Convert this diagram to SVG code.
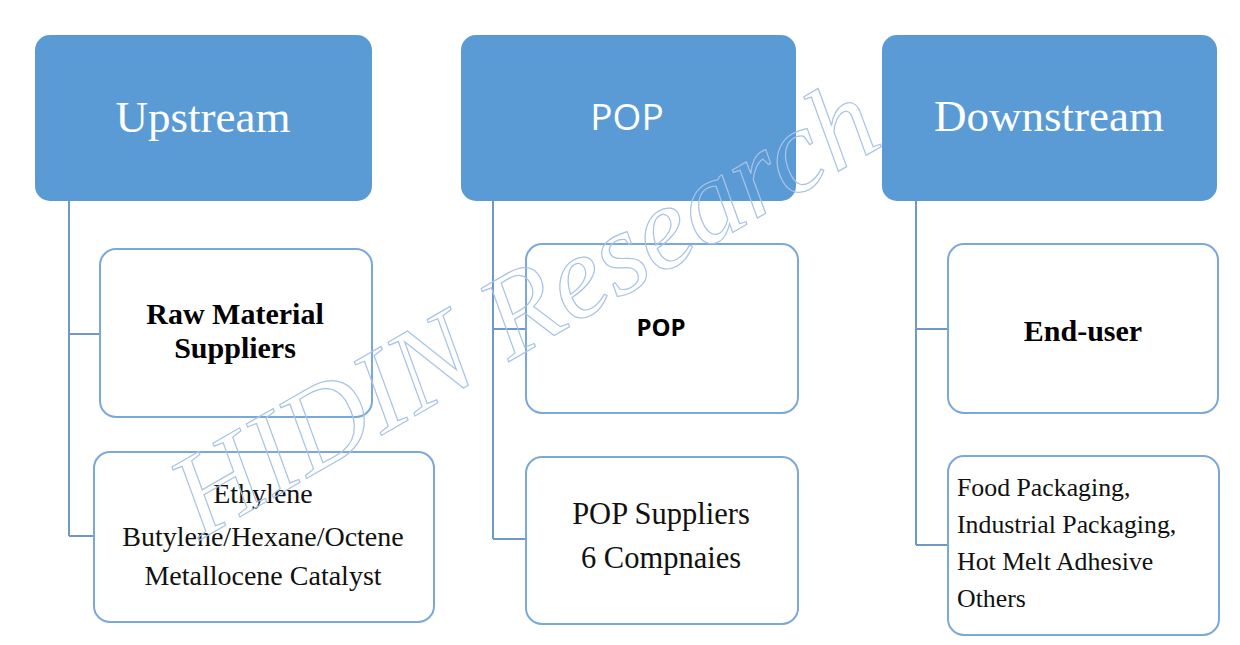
<svg xmlns="http://www.w3.org/2000/svg" width="1240" height="645" viewBox="0 0 1240 645">
<style>
.hdr{fill:#5B9BD5;}
.box{fill:#FFFFFF;stroke:#7AA8DA;stroke-width:2;}
.con{fill:none;stroke:#6D98C8;stroke-width:2;}
.ht{font-family:"Liberation Serif",serif;font-size:45px;fill:#FFFFFF;text-anchor:middle;}
.hs{font-family:"Open Sans","Liberation Sans",sans-serif;font-size:37px;fill:#FFFFFF;text-anchor:middle;}
.bt{font-family:"Liberation Serif",serif;font-size:30px;font-weight:bold;fill:#000;text-anchor:middle;}
.bs{font-family:"Open Sans","Liberation Sans",sans-serif;font-size:24px;font-weight:bold;fill:#000;text-anchor:middle;}
.t{font-family:"Liberation Serif",serif;font-size:28px;fill:#111;text-anchor:middle;}
.tl{font-family:"Liberation Serif",serif;font-size:25.8px;fill:#111;}
.wm{font-family:"Liberation Serif",serif;font-style:italic;font-size:118px;fill:none;stroke:#A8C3E6;stroke-width:1.2;}
</style>
<rect width="1240" height="645" fill="#FFFFFF"/>
<g id="connectors">
<path class="con" d="M69,201 V536 M69,334 H100 M69,536 H94"/>
<path class="con" d="M493,201 V539 M493,329 H526 M493,539 H526"/>
<path class="con" d="M916,201 V545 M916,329 H948 M916,545 H948"/>
</g>
<g id="upstream">
<rect class="hdr" x="35" y="35" width="337" height="166" rx="15"/>
<text class="ht" x="203" y="132">Upstream</text>
</g>
<g id="raw-material">
<rect class="box" x="100" y="249" width="272" height="168" rx="16"/>
<text class="bt" x="235" y="324">Raw Material</text>
<text class="bt" x="235" y="358">Suppliers</text>
</g>
<g id="raw-list">
<rect class="box" x="94" y="452" width="340" height="170" rx="16"/>
<text class="t" x="263" y="503">Ethylene</text>
<text class="t" x="263" y="546">Butylene/Hexane/Octene</text>
<text class="t" x="263" y="585">Metallocene Catalyst</text>
</g>
<g id="pop-header">
<rect class="hdr" x="461" y="35" width="335" height="166" rx="15"/>
<text class="hs" x="627" y="130">POP</text>
</g>
<g id="pop">
<rect class="box" x="526" y="244" width="272" height="169" rx="16"/>
<text class="bs" x="661" y="336">POP</text>
</g>
<g id="pop-suppliers">
<rect class="box" x="526" y="457" width="272" height="167" rx="16"/>
<text class="t" x="661" y="524" style="font-size:30.5px">POP Suppliers</text>
<text class="t" x="661" y="568" style="font-size:30.5px">6 Compnaies</text>
</g>
<g id="downstream">
<rect class="hdr" x="882" y="35" width="335" height="166" rx="15"/>
<text class="ht" x="1049" y="131">Downstream</text>
</g>
<g id="end-user">
<rect class="box" x="948" y="244" width="270" height="169" rx="16"/>
<text class="bt" x="1083" y="341">End-user</text>
</g>
<g id="applications">
<rect class="box" x="948" y="456" width="271" height="179" rx="16"/>
<text class="tl" x="957" y="496">Food Packaging,</text>
<text class="tl" x="957" y="533">Industrial Packaging,</text>
<text class="tl" x="957" y="570">Hot Melt Adhesive</text>
<text class="tl" x="957" y="607">Others</text>
</g>
<text class="wm" transform="translate(200,540) rotate(-30)">HIDIN Research</text>
</svg>
